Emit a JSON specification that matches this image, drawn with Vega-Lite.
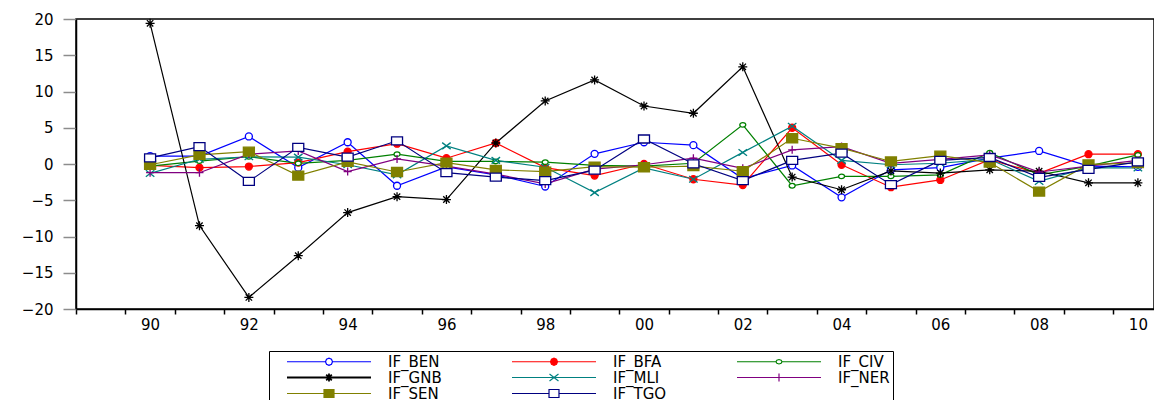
{
  "$schema": "https://vega.github.io/schema/vega-lite/v6.json",
  "width": 1078,
  "height": 290,
  "autosize": {"type": "none"},
  "padding": {"left": 76, "top": 19, "right": 0, "bottom": 91},
  "background": "white",
  "config": {
    "view": {"stroke": "black", "strokeWidth": 1.5},
    "axis": {"grid": false, "labelFont": "DejaVu Sans", "labelFontSize": 15, "labelColor": "black", "title": null}
  },
  "data": {"values": [
    {"year":1990,"s":"IF_BEN","v":1.1},{"year":1991,"s":"IF_BEN","v":1.1},{"year":1992,"s":"IF_BEN","v":3.8},{"year":1993,"s":"IF_BEN","v":-0.5},{"year":1994,"s":"IF_BEN","v":3.0},{"year":1995,"s":"IF_BEN","v":-3.0},{"year":1996,"s":"IF_BEN","v":-0.4},{"year":1997,"s":"IF_BEN","v":-1.5},{"year":1998,"s":"IF_BEN","v":-3.1},{"year":1999,"s":"IF_BEN","v":1.4},{"year":2000,"s":"IF_BEN","v":3.0},{"year":2001,"s":"IF_BEN","v":2.6},{"year":2002,"s":"IF_BEN","v":-2.0},{"year":2003,"s":"IF_BEN","v":-0.2},{"year":2004,"s":"IF_BEN","v":-4.6},{"year":2005,"s":"IF_BEN","v":-0.8},{"year":2006,"s":"IF_BEN","v":-0.5},{"year":2007,"s":"IF_BEN","v":0.8},{"year":2008,"s":"IF_BEN","v":1.8},{"year":2009,"s":"IF_BEN","v":-0.3},{"year":2010,"s":"IF_BEN","v":-0.4},
    {"year":1990,"s":"IF_BFA","v":-0.2},{"year":1991,"s":"IF_BFA","v":-0.5},{"year":1992,"s":"IF_BFA","v":-0.35},{"year":1993,"s":"IF_BFA","v":0.2},{"year":1994,"s":"IF_BFA","v":1.7},{"year":1995,"s":"IF_BFA","v":2.8},{"year":1996,"s":"IF_BFA","v":0.8},{"year":1997,"s":"IF_BFA","v":2.9},{"year":1998,"s":"IF_BFA","v":-0.5},{"year":1999,"s":"IF_BFA","v":-1.6},{"year":2000,"s":"IF_BFA","v":0.0},{"year":2001,"s":"IF_BFA","v":-2.1},{"year":2002,"s":"IF_BFA","v":-2.9},{"year":2003,"s":"IF_BFA","v":5.0},{"year":2004,"s":"IF_BFA","v":-0.1},{"year":2005,"s":"IF_BFA","v":-3.2},{"year":2006,"s":"IF_BFA","v":-2.2},{"year":2007,"s":"IF_BFA","v":0.6},{"year":2008,"s":"IF_BFA","v":-1.3},{"year":2009,"s":"IF_BFA","v":1.35},{"year":2010,"s":"IF_BFA","v":1.35},
    {"year":1990,"s":"IF_CIV","v":-0.3},{"year":1991,"s":"IF_CIV","v":0.4},{"year":1992,"s":"IF_CIV","v":1.0},{"year":1993,"s":"IF_CIV","v":0.1},{"year":1994,"s":"IF_CIV","v":0.5},{"year":1995,"s":"IF_CIV","v":1.35},{"year":1996,"s":"IF_CIV","v":0.35},{"year":1997,"s":"IF_CIV","v":0.35},{"year":1998,"s":"IF_CIV","v":0.25},{"year":1999,"s":"IF_CIV","v":-0.2},{"year":2000,"s":"IF_CIV","v":-0.3},{"year":2001,"s":"IF_CIV","v":0.1},{"year":2002,"s":"IF_CIV","v":5.4},{"year":2003,"s":"IF_CIV","v":-3.0},{"year":2004,"s":"IF_CIV","v":-1.7},{"year":2005,"s":"IF_CIV","v":-1.7},{"year":2006,"s":"IF_CIV","v":-1.5},{"year":2007,"s":"IF_CIV","v":1.55},{"year":2008,"s":"IF_CIV","v":-1.5},{"year":2009,"s":"IF_CIV","v":-0.3},{"year":2010,"s":"IF_CIV","v":1.25},
    {"year":1990,"s":"IF_GNB","v":19.4},{"year":1991,"s":"IF_GNB","v":-8.5},{"year":1992,"s":"IF_GNB","v":-18.4},{"year":1993,"s":"IF_GNB","v":-12.65},{"year":1994,"s":"IF_GNB","v":-6.7},{"year":1995,"s":"IF_GNB","v":-4.5},{"year":1996,"s":"IF_GNB","v":-4.9},{"year":1997,"s":"IF_GNB","v":2.9},{"year":1998,"s":"IF_GNB","v":8.7},{"year":1999,"s":"IF_GNB","v":11.6},{"year":2000,"s":"IF_GNB","v":8.0},{"year":2001,"s":"IF_GNB","v":7.0},{"year":2002,"s":"IF_GNB","v":13.4},{"year":2003,"s":"IF_GNB","v":-1.8},{"year":2004,"s":"IF_GNB","v":-3.55},{"year":2005,"s":"IF_GNB","v":-0.95},{"year":2006,"s":"IF_GNB","v":-1.25},{"year":2007,"s":"IF_GNB","v":-0.8},{"year":2008,"s":"IF_GNB","v":-1.0},{"year":2009,"s":"IF_GNB","v":-2.6},{"year":2010,"s":"IF_GNB","v":-2.6},
    {"year":1990,"s":"IF_MLI","v":-1.3},{"year":1991,"s":"IF_MLI","v":0.65},{"year":1992,"s":"IF_MLI","v":1.0},{"year":1993,"s":"IF_MLI","v":0.95},{"year":1994,"s":"IF_MLI","v":-0.1},{"year":1995,"s":"IF_MLI","v":-1.5},{"year":1996,"s":"IF_MLI","v":2.5},{"year":1997,"s":"IF_MLI","v":0.5},{"year":1998,"s":"IF_MLI","v":-0.45},{"year":1999,"s":"IF_MLI","v":-3.95},{"year":2000,"s":"IF_MLI","v":-0.55},{"year":2001,"s":"IF_MLI","v":-2.1},{"year":2002,"s":"IF_MLI","v":1.6},{"year":2003,"s":"IF_MLI","v":5.2},{"year":2004,"s":"IF_MLI","v":0.5},{"year":2005,"s":"IF_MLI","v":-0.1},{"year":2006,"s":"IF_MLI","v":0.1},{"year":2007,"s":"IF_MLI","v":0.65},{"year":2008,"s":"IF_MLI","v":-2.4},{"year":2009,"s":"IF_MLI","v":-0.5},{"year":2010,"s":"IF_MLI","v":-0.55},
    {"year":1990,"s":"IF_NER","v":-1.2},{"year":1991,"s":"IF_NER","v":-1.2},{"year":1992,"s":"IF_NER","v":1.35},{"year":1993,"s":"IF_NER","v":1.8},{"year":1994,"s":"IF_NER","v":-1.05},{"year":1995,"s":"IF_NER","v":0.7},{"year":1996,"s":"IF_NER","v":-0.3},{"year":1997,"s":"IF_NER","v":-1.4},{"year":1998,"s":"IF_NER","v":-2.75},{"year":1999,"s":"IF_NER","v":-0.7},{"year":2000,"s":"IF_NER","v":-0.1},{"year":2001,"s":"IF_NER","v":0.8},{"year":2002,"s":"IF_NER","v":-0.6},{"year":2003,"s":"IF_NER","v":1.95},{"year":2004,"s":"IF_NER","v":2.4},{"year":2005,"s":"IF_NER","v":0.1},{"year":2006,"s":"IF_NER","v":0.65},{"year":2007,"s":"IF_NER","v":1.25},{"year":2008,"s":"IF_NER","v":-1.1},{"year":2009,"s":"IF_NER","v":-0.3},{"year":2010,"s":"IF_NER","v":0.5},
    {"year":1990,"s":"IF_SEN","v":-0.1},{"year":1991,"s":"IF_SEN","v":1.25},{"year":1992,"s":"IF_SEN","v":1.7},{"year":1993,"s":"IF_SEN","v":-1.6},{"year":1994,"s":"IF_SEN","v":0.3},{"year":1995,"s":"IF_SEN","v":-1.1},{"year":1996,"s":"IF_SEN","v":0.2},{"year":1997,"s":"IF_SEN","v":-0.8},{"year":1998,"s":"IF_SEN","v":-1.05},{"year":1999,"s":"IF_SEN","v":-0.35},{"year":2000,"s":"IF_SEN","v":-0.45},{"year":2001,"s":"IF_SEN","v":-0.3},{"year":2002,"s":"IF_SEN","v":-1.0},{"year":2003,"s":"IF_SEN","v":3.55},{"year":2004,"s":"IF_SEN","v":2.2},{"year":2005,"s":"IF_SEN","v":0.35},{"year":2006,"s":"IF_SEN","v":1.15},{"year":2007,"s":"IF_SEN","v":0.2},{"year":2008,"s":"IF_SEN","v":-3.8},{"year":2009,"s":"IF_SEN","v":-0.05},{"year":2010,"s":"IF_SEN","v":0.12},
    {"year":1990,"s":"IF_TGO","v":0.85},{"year":1991,"s":"IF_TGO","v":2.4},{"year":1992,"s":"IF_TGO","v":-2.4},{"year":1993,"s":"IF_TGO","v":2.3},{"year":1994,"s":"IF_TGO","v":0.95},{"year":1995,"s":"IF_TGO","v":3.2},{"year":1996,"s":"IF_TGO","v":-1.2},{"year":1997,"s":"IF_TGO","v":-1.8},{"year":1998,"s":"IF_TGO","v":-2.3},{"year":1999,"s":"IF_TGO","v":-0.85},{"year":2000,"s":"IF_TGO","v":3.45},{"year":2001,"s":"IF_TGO","v":0.03},{"year":2002,"s":"IF_TGO","v":-2.3},{"year":2003,"s":"IF_TGO","v":0.5},{"year":2004,"s":"IF_TGO","v":1.5},{"year":2005,"s":"IF_TGO","v":-2.85},{"year":2006,"s":"IF_TGO","v":0.5},{"year":2007,"s":"IF_TGO","v":0.9},{"year":2008,"s":"IF_TGO","v":-1.85},{"year":2009,"s":"IF_TGO","v":-0.75},{"year":2010,"s":"IF_TGO","v":0.3}
  ]},
  "encoding": {
    "x": {"field": "year", "type": "quantitative",
      "scale": {"domain": [1988.5, 2010.326], "nice": false, "zero": false},
      "axis": {"values": [1988.5,1989.5,1990.5,1991.5,1992.5,1993.5,1994.5,1995.5,1996.5,1997.5,1998.5,1999.5,2000.5,2001.5,2002.5,2003.5,2004.5,2005.5,2006.5,2007.5,2008.5,2009.5],
        "labelExpr": "(datum.value + 0.5) % 2 == 0 ? substring(toString(datum.value + 0.5), 2, 4) : ''",
        "labelOffset": 24.7, "labelOverlap": false, "labelFlush": false, "labelPadding": 3,
        "tickSize": 5, "tickColor": "black", "tickWidth": 1.5, "domainColor": "black", "domainWidth": 1.5}},
    "y": {"field": "v", "type": "quantitative",
      "scale": {"domain": [-20, 20], "nice": false, "zero": false},
      "axis": {"values": [-20,-15,-10,-5,0,5,10,15,20], "tickSize": 13, "tickColor": "#8c8c8c", "tickWidth": 1.5, "domainColor": "black", "domainWidth": 1.5, "labelPadding": 10}}
  },
  "layer": [
    {
      "mark": {"type": "line", "strokeWidth": 1.2},
      "encoding": {
        "color": {"field": "s", "type": "nominal",
          "scale": {"domain": ["IF_BEN","IF_BFA","IF_CIV","IF_GNB","IF_MLI","IF_NER","IF_SEN","IF_TGO"],
                    "range": ["#0000FF","#FF0000","#008000","#000000","#008080","#800080","#808000","#000080"]},
          "legend": {
            "orient": "none", "legendX": 193, "legendY": 332, "title": null, "direction": "horizontal",
            "columns": 3, "columnPadding": 55, "rowPadding": 0, "padding": 3,
            "strokeColor": "black", "fillColor": "white",
            "symbolSize": 12544, "symbolStrokeWidth": 1, "clipHeight": 15, "symbolOpacity": 1,
            "labelFont": "DejaVu Sans", "labelFontSize": 15, "labelOffset": 2, "labelColor": "black",
            "symbolType": {"expr": "['M-0.75,0L-0.0625,0M0.0625,0L0.75,0M0.0625,0L0.0442,0.0442L0,0.0625L-0.0442,0.0442L-0.0625,0L-0.0442,-0.0442L0,-0.0625L0.0442,-0.0442Z','M-0.75,0L0.75,0M0.0625,0L0.0442,0.0442L0,0.0625L-0.0442,0.0442L-0.0625,0L-0.0442,-0.0442L0,-0.0625L0.0442,-0.0442Z','M-0.75,0L-0.054,0M0.054,0L0.75,0M0.054,0L0.038,0.028L0,0.04L-0.038,0.028L-0.054,0L-0.038,-0.028L0,-0.04L0.038,-0.028Z','M-0.75,0L0.75,0M0,-0.071L0,0.071M-0.05,-0.05L0.05,0.05M-0.05,0.05L0.05,-0.05','M-0.75,0L0.75,0M-0.08,-0.0625L0.08,0.0625M-0.08,0.0625L0.08,-0.0625','M-0.75,0L0.75,0M0,-0.071L0,0.071','M-0.75,0L0.75,0M-0.089,-0.071L0.089,-0.071L0.089,0.071L-0.089,0.071Z','M-0.75,0L-0.089,0M0.089,0L0.75,0M-0.089,-0.071L0.089,-0.071L0.089,0.071L-0.089,0.071Z'][indexof(['IF_BEN','IF_BFA','IF_CIV','IF_GNB','IF_MLI','IF_NER','IF_SEN','IF_TGO'], datum.value)]"},
            "symbolFillColor": {"expr": "['white','#FF0000','white','transparent','transparent','transparent','#808000','white'][indexof(['IF_BEN','IF_BFA','IF_CIV','IF_GNB','IF_MLI','IF_NER','IF_SEN','IF_TGO'], datum.value)]"}
          }},
        "strokeWidth": {"field": "s", "type": "nominal",
          "scale": {"type": "ordinal", "domain": ["IF_BEN","IF_BFA","IF_CIV","IF_GNB","IF_MLI","IF_NER","IF_SEN","IF_TGO"], "range": [1.2,1.2,1.2,1.8,1.2,1.2,1.2,1.2]},
          "legend": null}
      }
    },
    {"transform": [{"filter": {"field": "s", "equal": "IF_BEN"}}],
     "mark": {"type": "point", "shape": "M0.7,0A0.7,0.7,0,1,1,-0.7,0A0.7,0.7,0,1,1,0.7,0Z", "size": 100, "stroke": "#0000FF", "fill": "white", "strokeWidth": 1.3, "opacity": 1}},
    {"transform": [{"filter": {"field": "s", "equal": "IF_BFA"}}],
     "mark": {"type": "point", "shape": "M0.7,0A0.7,0.7,0,1,1,-0.7,0A0.7,0.7,0,1,1,0.7,0Z", "size": 100, "stroke": "#FF0000", "fill": "#FF0000", "strokeWidth": 1.3, "opacity": 1}},
    {"transform": [{"filter": {"field": "s", "equal": "IF_CIV"}}],
     "mark": {"type": "point", "shape": "M0.6,0A0.6,0.46,0,1,1,-0.6,0A0.6,0.46,0,1,1,0.6,0Z", "size": 100, "stroke": "#008000", "fill": "white", "strokeWidth": 1.3, "opacity": 1}},
    {"transform": [{"filter": {"field": "s", "equal": "IF_GNB"}}],
     "mark": {"type": "point", "shape": "M-0.9,0L0.9,0M0,-0.9L0,0.9M-0.64,-0.64L0.64,0.64M-0.64,0.64L0.64,-0.64", "size": 100, "stroke": "#000000", "fill": "transparent", "strokeWidth": 1.3, "opacity": 1}},
    {"transform": [{"filter": {"field": "s", "equal": "IF_MLI"}}],
     "mark": {"type": "point", "shape": "M-0.85,-0.65L0.85,0.65M-0.85,0.65L0.85,-0.65", "size": 100, "stroke": "#008080", "fill": "transparent", "strokeWidth": 1.3, "opacity": 1}},
    {"transform": [{"filter": {"field": "s", "equal": "IF_NER"}}],
     "mark": {"type": "point", "shape": "M-0.8,0L0.8,0M0,-0.8L0,0.8", "size": 100, "stroke": "#800080", "fill": "transparent", "strokeWidth": 1.3, "opacity": 1}},
    {"transform": [{"filter": {"field": "s", "equal": "IF_SEN"}}],
     "mark": {"type": "point", "shape": "M-1.1,-0.9L1.1,-0.9L1.1,0.9L-1.1,0.9Z", "size": 100, "stroke": "#808000", "fill": "#808000", "strokeWidth": 1.3, "opacity": 1}},
    {"transform": [{"filter": {"field": "s", "equal": "IF_TGO"}}],
     "mark": {"type": "point", "shape": "M-1.1,-0.8L1.1,-0.8L1.1,0.8L-1.1,0.8Z", "size": 100, "stroke": "#000080", "fill": "white", "strokeWidth": 1.3, "opacity": 1}}
  ]
}
